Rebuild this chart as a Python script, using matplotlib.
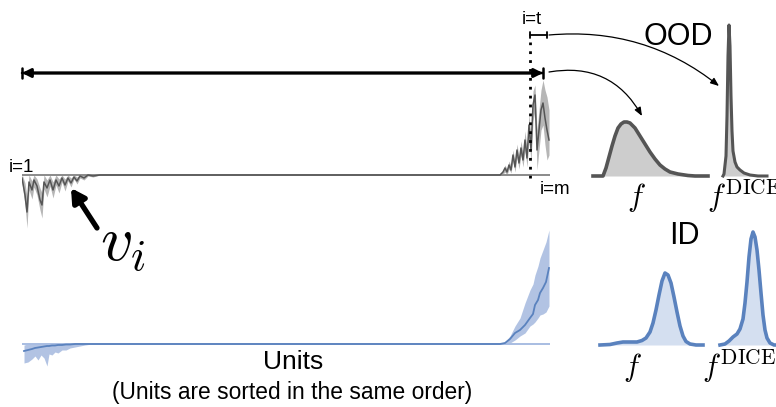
import numpy as np
import matplotlib.pyplot as plt

plt.rcParams['font.family'] = ['Liberation Sans', 'DejaVu Sans']
plt.rcParams['mathtext.fontset'] = 'cm'

W, H = 776, 407

# ---- unit activations (sorted units), OOD sample: mean and spread ----
ood_units = [0, 3, 5, 7, 10, 12, 15, 18, 20, 22, 25, 28, 31, 34, 37, 40, 43, 46, 49, 52,
             55, 58, 62, 66, 71, 78,
             478, 481, 483, 485, 487, 489, 491, 493, 495, 497, 499, 501, 503, 505, 507,
             509, 511, 513, 515, 517, 519, 521, 523, 525, 527]
ood_mean = [-0.3, -2.0, -3.7, -0.7, -1.5, -0.5, -1.1, -2.5, -3.0, -0.7, -1.3, -0.5, -1.5, -0.5,
            -1.1, -0.3, -1.0, -0.3, -0.8, -0.2, -0.6, -0.1, -0.3, 0.0, -0.1, 0.0,
            0.0, 0.3, 0.7, 0.3, 1.0, 0.5, 2.0, 0.8, 2.5, 1.2, 2.7, 1.5, 3.5, 1.7, 5.0,
            2.5, 7.0, 8.0, 2.5, 4.5, 6.5, 7.2, 5.7, 4.5, 3.5]
ood_hi = [0.1, -0.8, -2.2, 0.0, -0.6, 0.0, -0.4, -1.3, -1.8, 0.0, -0.5, 0.0, -0.7, 0.0,
          -0.4, 0.0, -0.4, 0.0, -0.3, 0.0, -0.2, 0.0, 0.0, 0.0, 0.0, 0.0,
          0.0, 0.5, 1.0, 0.6, 1.4, 0.9, 2.5, 1.3, 3.1, 1.8, 3.4, 2.2, 4.4, 2.6, 6.2,
          3.7, 8.4, 9.0, 4.5, 6.5, 8.5, 9.5, 8.5, 7.8, 6.5]
ood_lo = [-0.8, -3.0, -5.3, -1.5, -2.4, -1.2, -2.0, -3.5, -4.3, -1.4, -2.2, -1.1, -2.3, -1.0,
          -1.8, -0.7, -1.6, -0.6, -1.2, -0.4, -0.9, -0.3, -0.5, -0.1, -0.2, 0.0,
          0.0, 0.1, 0.3, 0.0, 0.6, 0.2, 1.4, 0.3, 1.8, 0.6, 2.0, 0.8, 2.5, 0.8, 3.6,
          1.3, 5.4, 6.5, 0.5, 2.5, 4.5, 5.0, 3.0, 1.5, 2.0]

# ---- unit activations, ID sample ----
id_units = [2, 6, 10, 13, 16, 19, 22, 25, 27, 30, 33, 36, 40, 44, 48, 53, 58, 63, 70, 80,
            478, 483, 488, 493, 498, 503, 508, 511, 513, 516, 518, 521, 524, 527]
id_mean = [-0.7, -0.6, -0.5, -0.4, -0.35, -0.3, -0.25, -0.2, -0.2, -0.15, -0.15, -0.1, -0.1,
           -0.05, -0.05, 0.0, 0.0, 0.0, 0.0, 0.0,
           0.0, 0.1, 0.5, 1.1, 1.4, 1.9, 2.6, 3.0, 3.9, 4.4, 5.1, 5.6, 6.2, 7.6]
id_hi = [-0.1, 0.0, 0.0, 0.0, 0.0, 0.0, 0.0, 0.0, 0.0, 0.0, 0.0, 0.0, 0.0, 0.0, 0.0, 0.0,
         0.0, 0.0, 0.0, 0.0,
         0.0, 0.2, 0.8, 1.8, 2.6, 4.1, 5.4, 6.0, 6.9, 7.8, 8.6, 9.4, 10.2, 11.4]
id_lo = [-1.9, -1.8, -1.5, -1.2, -1.6, -1.1, -1.4, -2.2, -1.0, -1.1, -0.8, -0.9, -0.6, -0.6,
         -0.4, -0.3, -0.2, -0.1, 0.0, 0.0,
         0.0, 0.0, 0.1, 0.4, 0.8, 1.1, 1.8, 2.0, 2.2, 2.6, 2.9, 3.0, 3.2, 3.8]

n_units = 528
t_unit = 508

# ---- output distributions ----
ood_f_x = [0, 10, 13, 16, 19, 22, 25, 28, 31, 34, 37, 42, 47, 52, 57, 62, 67, 72, 77, 85, 95, 102, 115]
ood_f_y = [0, 0, 8, 19, 30, 40, 48, 52, 54, 54, 53, 48, 40, 32, 24, 17, 11, 7, 4, 2, 0.5, 0, 0]
ood_dice_x = [0, 1, 3, 4, 5, 6, 7, 8, 9, 10, 12, 14, 17, 21, 27, 35, 44]
ood_dice_y = [0, 2, 20, 60, 120, 151, 130, 80, 45, 25, 14, 9, 6, 3, 1, 0, 0]
id_f_x = [0, 10, 17, 23, 30, 37, 42, 46, 50, 53, 56, 59, 62, 65, 68, 71, 74, 77, 80, 83, 86, 90, 96, 103]
id_f_y = [0, 0.5, 2, 3, 3, 3, 4.5, 7, 13, 22, 35, 50, 64, 72, 70, 62, 48, 33, 19, 9, 3.5, 1, 0, 0]
id_dice_x = [0, 5, 9, 13, 17, 20, 23, 25, 27, 29, 31, 33, 35, 37, 39, 41, 43, 45, 47, 50, 54, 56]
id_dice_y = [0, 1, 4, 8, 11, 16, 26, 42, 63, 88, 106, 113, 108, 95, 75, 52, 30, 15, 7, 2, 0, 0]

gray_line, gray_fill, gray_band = '#555555', '#cdcdcd', '#a9a9a9'
blue_line, blue_fill, blue_band = '#5a82be', '#d4dff0', '#9fb5dd'


def px_axes(fig, x0, y0, x1, y1):
    # axes placed by pixel box (y measured from the top)
    ax = fig.add_axes([x0 / W, 1 - y1 / H, (x1 - x0) / W, (y1 - y0) / H])
    ax.axis('off')
    return ax


fig = plt.figure(figsize=(W / 100, H / 100), dpi=100)

# unit curves
ax_top = px_axes(fig, 22, 60, 550, 235)
ax_top.set_xlim(0, n_units)
ax_top.set_ylim(-6, 11.5)
ax_top.plot([0, n_units], [0, 0], color='#8a8a8a', lw=1.4)
ax_top.fill_between(ood_units, ood_lo, ood_hi, color=gray_band, alpha=0.85, lw=0)
ax_top.plot(ood_units, ood_mean, color=gray_line, lw=1.1)
ax_top.plot([t_unit, t_unit], [-0.3, 13.3], color='k', ls=(0, (1, 2.2)), lw=2.0, clip_on=False)

ax_bot = px_axes(fig, 22, 220, 550, 375)
ax_bot.set_xlim(0, n_units)
ax_bot.set_ylim(-3.1, 12.4)
ax_bot.plot([0, n_units], [0, 0], color='#a8bde2', lw=1.4)
ax_bot.fill_between(id_units, id_lo, id_hi, color=blue_band, alpha=0.8, lw=0)
ax_bot.plot(id_units, id_mean, color=blue_line, lw=1.3)


def density(ax, xs, ys, line, fill, lw):
    ax.fill_between(xs, 0, ys, color=fill, lw=0)
    ax.plot(xs, ys, color=line, lw=lw, solid_joinstyle='round', clip_on=False)


a = px_axes(fig, 593, 100, 708, 176)
a.set_xlim(0, 115); a.set_ylim(0, 76)
density(a, ood_f_x, ood_f_y, gray_line, gray_fill, 2.6)

a = px_axes(fig, 723, 20, 767, 176)
a.set_xlim(0, 44); a.set_ylim(0, 156)
density(a, ood_dice_x, ood_dice_y, gray_line, gray_fill, 2.2)

a = px_axes(fig, 600, 265, 703, 345)
a.set_xlim(0, 103); a.set_ylim(0, 80)
density(a, id_f_x, id_f_y, blue_line, blue_fill, 2.6)

a = px_axes(fig, 720, 225, 776, 345)
a.set_xlim(0, 56); a.set_ylim(0, 120)
density(a, id_dice_x, id_dice_y, blue_line, blue_fill, 2.6)

# overlay for labels and arrows
ov = fig.add_axes([0, 0, 1, 1])
ov.set_xlim(0, W)
ov.set_ylim(H, 0)
ov.axis('off')

ov.annotate('', xy=(22, 73), xytext=(543, 73),
            arrowprops=dict(arrowstyle='<|-|>,head_length=0.5,head_width=0.25', lw=2.2,
                            color='k', shrinkA=0, shrinkB=0))
ov.annotate('', xy=(22, 73), xytext=(543, 73),
            arrowprops=dict(arrowstyle='|-|,widthA=0.35,widthB=0.35', lw=1.8,
                            color='k', shrinkA=0, shrinkB=0))
ov.annotate('', xy=(530, 35), xytext=(547, 35),
            arrowprops=dict(arrowstyle='|-|,widthA=0.25,widthB=0.25', lw=1.3,
                            color='k', shrinkA=0, shrinkB=0))

ov.annotate('', xy=(719, 86), xytext=(549, 35),
            arrowprops=dict(arrowstyle='-|>,head_length=0.5,head_width=0.2', lw=0.9,
                            color='k', shrinkA=0, shrinkB=0,
                            connectionstyle='arc3,rad=-0.2'))
ov.annotate('', xy=(642, 116), xytext=(549, 72),
            arrowprops=dict(arrowstyle='-|>,head_length=0.5,head_width=0.2', lw=0.9,
                            color='k', shrinkA=0, shrinkB=0,
                            connectionstyle='arc3,rad=-0.35'))

ov.annotate('', xy=(71, 188), xytext=(97, 228),
            arrowprops=dict(arrowstyle='-|>,head_length=0.8,head_width=0.45', lw=3.8,
                            color='k', shrinkA=0, shrinkB=0))

ov.text(21, 168, 'i=1', fontsize=13.5, ha='center', va='center')
ov.text(532, 20, 'i=t', fontsize=13.5, ha='center', va='center')
ov.text(555, 189, 'i=m', fontsize=13.5, ha='center', va='center')
ov.text(678, 37, 'OOD', fontsize=22, ha='center', va='center')
ov.text(684, 236, 'ID', fontsize=22, ha='center', va='center')
ov.text(636, 198, r'$f$', fontsize=22, ha='center', va='center')
ov.text(707, 196, r'$f^{\mathrm{DICE}}$', fontsize=22, ha='left', va='center')
ov.text(632, 368, r'$f$', fontsize=22, ha='center', va='center')
ov.text(702, 366, r'$f^{\mathrm{DICE}}$', fontsize=22, ha='left', va='center')
ov.text(100, 245, r'$v_i$', fontsize=46, ha='left', va='center')
ov.text(293, 362, 'Units', fontsize=19, ha='center', va='center')
ov.text(292, 393, '(Units are sorted in the same order)', fontsize=16.4, ha='center', va='center')

fig.savefig('out.png', dpi=100)
